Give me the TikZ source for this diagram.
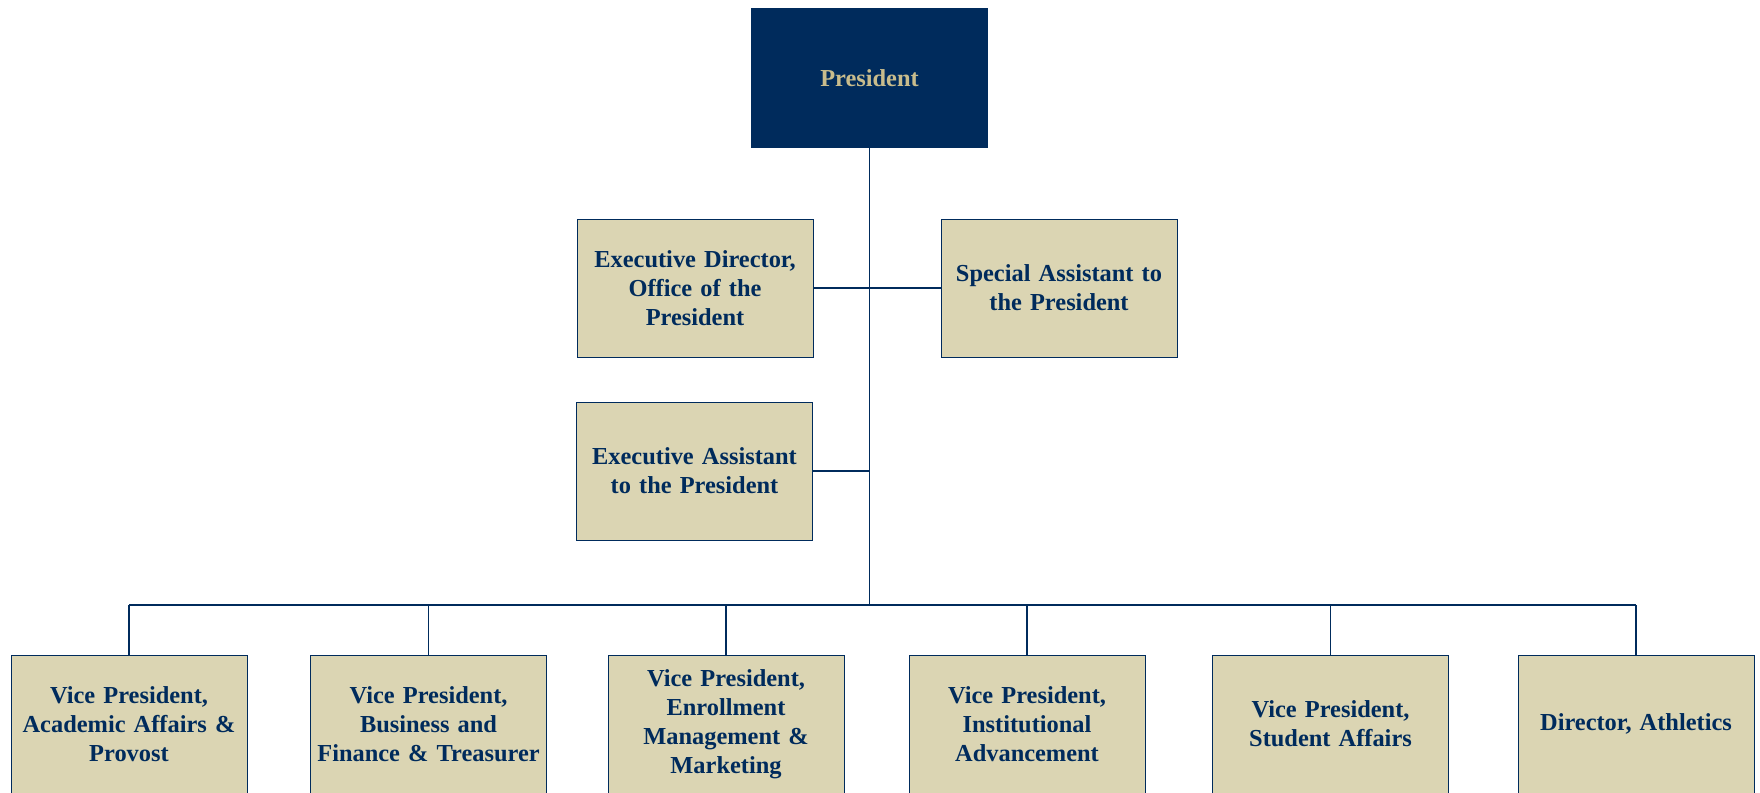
\documentclass[tikz,border=0pt]{standalone}
\usepackage{fontspec}
\setmainfont{Liberation Serif}
\definecolor{navy}{RGB}{0,43,92}
\definecolor{beige}{RGB}{219,213,179}
\definecolor{khaki}{RGB}{200,188,140}
\begin{document}
\begin{tikzpicture}[x=0.5pt,y=-0.5pt,
  box/.style={draw=navy,line width=0.5pt,fill=beige,text=navy,minimum width=118pt,minimum height=69pt,
    text width=114pt,align=center,inner sep=0pt,font=\fontsize{12.2}{14.5}\selectfont\bfseries},
  presbox/.style={box,fill=navy,text=khaki},
  conn/.style={navy,line width=0.7pt}]
\useasboundingbox (0,0) rectangle (1760,792);
\node[presbox] (pres) at (869.5,78) {President};
\node[box] (ed) at (695,288) {Executive Director,\\Office of the\\President};
\node[box] (sa) at (1059,288) {Special Assistant to\\the President};
\node[box] (ea) at (694.5,471) {Executive Assistant\\to the President};
\node[box] (v1) at (129,724) {Vice President,\\Academic Affairs \&\\Provost};
\node[box] (v2) at (428.5,724) {Vice President,\\Business and\\Finance \& Treasurer};
\node[box] (v3) at (726,724) {Vice President,\\Enrollment\\Management \&\\Marketing};
\node[box] (v4) at (1027,724) {Vice President,\\Institutional\\Advancement};
\node[box] (v5) at (1330.5,724) {Vice President,\\Student Affairs};
\node[box] (v6) at (1636,724) {Director, Athletics};
\coordinate (bus) at (869.5,605);
\draw[conn] (pres.south) -- (bus);
\draw[conn] (ed.east) -- (sa.west);
\draw[conn] (ea.east) -- (ea.east -| pres.south);
\draw[conn] (v1.north |- bus) -- (v6.north |- bus);
\foreach \v in {v1,v2,v3,v4,v5,v6}{\draw[conn] (\v.north) -- (\v.north |- bus);}
\end{tikzpicture}
\end{document}
